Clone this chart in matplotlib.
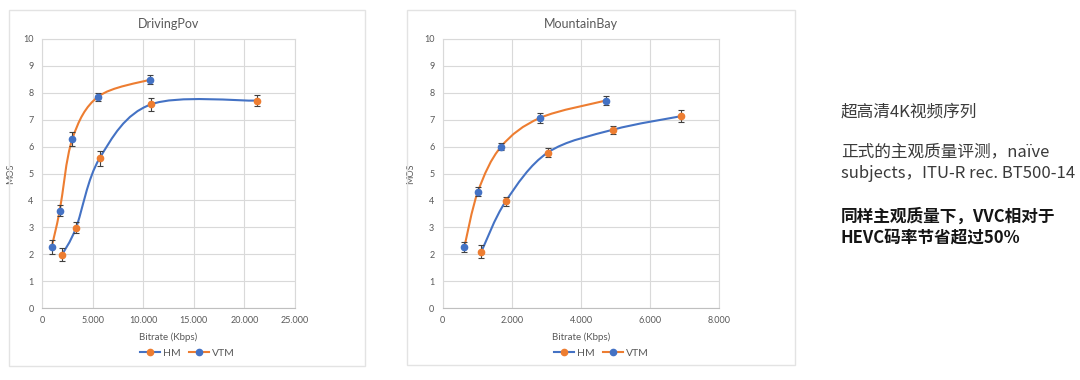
import matplotlib
matplotlib.use('Agg')
import matplotlib.pyplot as plt
from matplotlib.path import Path
from matplotlib.patches import PathPatch, Rectangle
from matplotlib.lines import Line2D
from matplotlib.ticker import FuncFormatter, MultipleLocator

# DrivingPov
dp_hm_rate = [1976, 3360, 5700, 10770, 21215]
dp_hm_mos = [1.98, 2.98, 5.57, 7.57, 7.71]
dp_hm_err = [0.25, 0.2, 0.28, 0.25, 0.2]
dp_vtm_rate = [958, 1750, 2995, 5563, 10672]
dp_vtm_mos = [2.27, 3.62, 6.28, 7.86, 8.49]
dp_vtm_err = [0.25, 0.2, 0.25, 0.15, 0.18]

# MountainBay
mb_hm_rate = [1120, 1820, 3040, 4930, 6890]
mb_hm_mos = [2.10, 3.96, 5.78, 6.63, 7.13]
mb_hm_err = [0.25, 0.18, 0.18, 0.15, 0.22]
mb_vtm_rate = [625, 1020, 1690, 2820, 4710]
mb_vtm_mos = [2.26, 4.33, 6.00, 7.07, 7.71]
mb_vtm_err = [0.18, 0.18, 0.12, 0.18, 0.18]

orange = '#ED7D31'
blue = '#4472C4'
grid_c = '#D9D9D9'
txt_c = '#595959'
font = 'Lato'

W, H = 1080, 380
fig = plt.figure(figsize=(W / 100, H / 100), dpi=100)
fig.patch.set_facecolor('white')


def px(x0, y0, x1, y1):
    return [x0 / W, 1 - y1 / H, (x1 - x0) / W, (y1 - y0) / H]


def smooth_path(xs, ys):
    # Excel style smoothed line: cubic bezier segments (Catmull-Rom tangents)
    pts = list(zip(xs, ys))
    n = len(pts)
    verts = [pts[0]]
    codes = [Path.MOVETO]
    for i in range(n - 1):
        p0 = pts[i - 1] if i > 0 else pts[i]
        p1 = pts[i]
        p2 = pts[i + 1]
        p3 = pts[i + 2] if i + 2 < n else pts[i + 1]
        c1 = (p1[0] + (p2[0] - p0[0]) / 6, p1[1] + (p2[1] - p0[1]) / 6)
        c2 = (p2[0] - (p3[0] - p1[0]) / 6, p2[1] - (p3[1] - p1[1]) / 6)
        verts += [c1, c2, p2]
        codes += [Path.CURVE4] * 3
    return Path(verts, codes)


def thousands(v, pos):
    return '0' if v == 0 else '{:,.0f}'.format(v).replace(',', '.')


def panel(frame, axbox, title, xmax, xstep, hm, vtm):
    fx0, fy0, fx1, fy1 = frame
    fig.patches.append(Rectangle((fx0 / W, 1 - fy1 / H), (fx1 - fx0) / W, (fy1 - fy0) / H,
                                 transform=fig.transFigure, fill=False,
                                 edgecolor='#E3E3E3', linewidth=1.0))
    ax = fig.add_axes(px(*axbox))
    ax.set_xlim(0, xmax)
    ax.set_ylim(0, 10)
    ax.xaxis.set_major_locator(MultipleLocator(xstep))
    ax.yaxis.set_major_locator(MultipleLocator(1))
    ax.xaxis.set_major_formatter(FuncFormatter(thousands))
    ax.grid(True, color=grid_c, linewidth=0.8)
    ax.set_axisbelow(True)
    for s in ax.spines.values():
        s.set_color(grid_c)
        s.set_linewidth(0.8)
    ax.spines['bottom'].set_color('#BFBFBF')
    ax.tick_params(length=0, colors=txt_c, labelsize=6.5, pad=6)
    for lab in ax.get_xticklabels() + ax.get_yticklabels():
        lab.set_family(font)
    ax.set_xlabel('Bitrate (Kbps)', fontsize=7, color=txt_c, family=font, labelpad=5)
    ax.set_ylabel('MOS', fontsize=6.5, color=txt_c, family=font, labelpad=6)
    ax.set_title(title, fontsize=9, color=txt_c, family=font, pad=8)

    for (rate, mos, err), line_c, mark_c in ((hm, blue, orange), (vtm, orange, blue)):
        ax.add_patch(PathPatch(smooth_path(rate, mos), fill=False, edgecolor=line_c,
                               linewidth=1.5, zorder=3))
        ax.errorbar(rate, mos, yerr=err, fmt='o', color=mark_c, markersize=4.5,
                    ecolor='#404040', elinewidth=0.8, capsize=2, capthick=0.8, zorder=4)

    handles = [Line2D([], [], color=blue, marker='o', markerfacecolor=orange,
                      markeredgecolor=orange, markersize=4.5, linewidth=1.5),
               Line2D([], [], color=orange, marker='o', markerfacecolor=blue,
                      markeredgecolor=blue, markersize=4.5, linewidth=1.5)]
    cx = (fx0 + fx1) / 2 / W
    fig.legend(handles, ['HM', 'VTM'], loc='center', bbox_to_anchor=(cx, 1 - 353 / H),
               ncol=2, frameon=False, handlelength=2.0, columnspacing=0.8,
               handletextpad=0.2, prop={'family': font, 'size': 7.5}, labelcolor=txt_c)
    return ax


panel((9, 10, 365, 366), (42, 39, 295, 308), 'DrivingPov', 25000, 5000,
      (dp_hm_rate, dp_hm_mos, dp_hm_err), (dp_vtm_rate, dp_vtm_mos, dp_vtm_err))
panel((407, 10, 795, 365), (442.7, 39, 719.3, 308), 'MountainBay', 8000, 2000,
      (mb_hm_rate, mb_hm_mos, mb_hm_err), (mb_vtm_rate, mb_vtm_mos, mb_vtm_err))

cjk = ['Noto Sans CJK SC', 'DejaVu Sans']
notes = [
    ('超高清4K视频序列', 112, 'normal', '#3a3a3a'),
    ('正式的主观质量评测，naïve', 152, 'normal', '#3a3a3a'),
    ('subjects，ITU-R rec. BT500-14', 174, 'normal', '#3a3a3a'),
    ('同样主观质量下，VVC相对于', 217, 'bold', '#151515'),
    ('HEVC码率节省超过50%', 238, 'bold', '#151515'),
]
for s, y, w, c in notes:
    fig.text(841 / W, 1 - y / H, s, family=cjk, fontsize=12, weight=w, color=c,
             ha='left', va='center')

fig.savefig('out.png', dpi=100, facecolor='white')
